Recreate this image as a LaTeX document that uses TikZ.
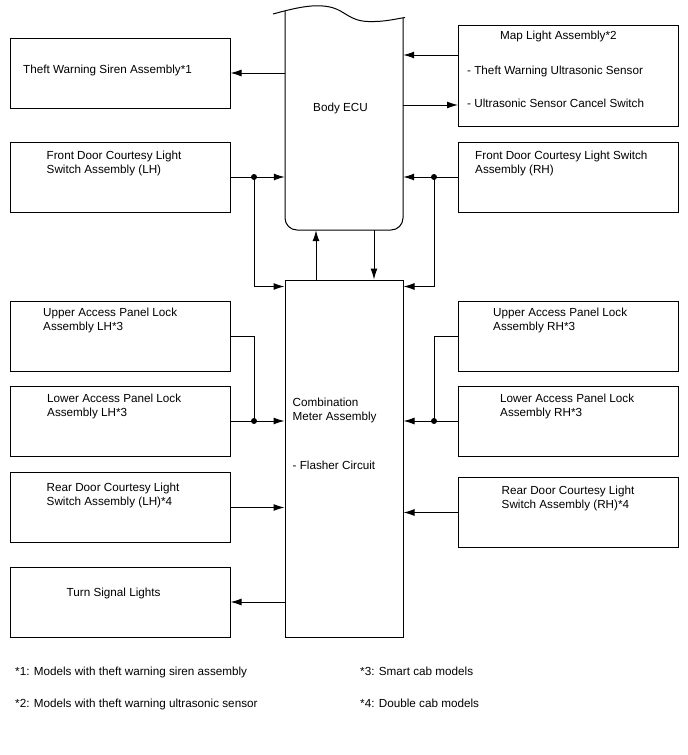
\documentclass[tikz,border=0pt]{standalone}
\usepackage{fontspec}
\setmainfont{Liberation Sans}
\usetikzlibrary{arrows.meta}
\begin{document}
\begin{tikzpicture}[x=1pt,y=-1pt,
  box/.style={draw, line width=1pt, inner sep=0, minimum width=220pt, minimum height=70pt},
  txt/.style={anchor=base west, inner sep=0, font=\fontsize{11.7}{14}\selectfont},
  ln/.style={line width=1pt},
  arr/.style={ln, -{Latex[length=11pt,width=7pt]}},
  jdot/.style={circle, fill, inner sep=0, minimum size=6pt}]
\useasboundingbox (0,0) rectangle (688,755);
% boxes
\node[box] (siren) at (120,73) {};
\node[box, minimum height=101pt] (map) at (568,75.5) {};
\node[box] (flh) at (120,177) {};
\node[box] (frh) at (568,177) {};
\node[box] (ulh) at (120,336.5) {};
\node[box] (urh) at (568,336.5) {};
\node[box] (llh) at (120,421) {};
\node[box] (lrh) at (568,421) {};
\node[box] (rlh) at (120,507.5) {};
\node[box] (rrh) at (568,512.5) {};
\node[box] (turn) at (120,602) {};
\node[draw, line width=1pt, inner sep=0, minimum width=118pt, minimum height=357pt] (meter) at (344,458.5) {};
\node[inner sep=0, minimum width=118pt, minimum height=220pt] (ecu) at (344,120) {};
% Body ECU outline
\draw[ln, rounded corners=12pt] (285,10.6) -- (285,230) -- (403,230) -- (403,18);
\draw[ln] (273,14) .. controls (295,8) and (315,3) .. (332,7.5) .. controls (345,11) and (350,21) .. (368,21.5) .. controls (385,22) and (395,19) .. (405,17.5);
% texts
\node[txt] (tsiren) at (23,73) {Theft Warning Siren Assembly*1};
\node[txt] (tecu) at (313,111) {Body ECU};
\node[txt] (tmap1) at (500,39) {Map Light Assembly*2};
\node[txt] (tmap2) at (467,74) {- Theft Warning Ultrasonic Sensor};
\node[txt] (tmap3) at (467,107.5) {- Ultrasonic Sensor Cancel Switch};
\node[txt] (tflh1) at (46.5,159) {Front Door Courtesy Light};
\node[txt] (tflh2) at (46.5,173) {Switch Assembly (LH)};
\node[txt] (tfrh1) at (475,159) {Front Door Courtesy Light Switch};
\node[txt] (tfrh2) at (475,173) {Assembly (RH)};
\node[txt] (tulh1) at (43,316.5) {Upper Access Panel Lock};
\node[txt] (tulh2) at (43,330.5) {Assembly LH*3};
\node[txt] (turh1) at (493,316.5) {Upper Access Panel Lock};
\node[txt] (turh2) at (493,330.5) {Assembly RH*3};
\node[txt] (tllh1) at (47,402) {Lower Access Panel Lock};
\node[txt] (tllh2) at (47,416) {Assembly LH*3};
\node[txt] (tlrh1) at (500,402) {Lower Access Panel Lock};
\node[txt] (tlrh2) at (500,416) {Assembly RH*3};
\node[txt] (trlh1) at (46.5,491) {Rear Door Courtesy Light};
\node[txt] (trlh2) at (46.5,505) {Switch Assembly (LH)*4};
\node[txt] (trrh1) at (501.5,494) {Rear Door Courtesy Light};
\node[txt] (trrh2) at (501.5,508) {Switch Assembly (RH)*4};
\node[txt] (tturn) at (66.5,596) {Turn Signal Lights};
\node[txt] (tmet1) at (292.5,406) {Combination};
\node[txt] (tmet2) at (292.5,420) {Meter Assembly};
\node[txt] (tmet3) at (292.5,469) {- Flasher Circuit};
\node[txt] (fn1) at (15,675) {*1: Models with theft warning siren assembly};
\node[txt] (fn2) at (15,707) {*2: Models with theft warning ultrasonic sensor};
\node[txt] (fn3) at (360,675) {*3: Smart cab models};
\node[txt] (fn4) at (360,707) {*4: Double cab models};
% connectors
\draw[arr] (ecu.west |- siren.east) -- (siren.east);
\coordinate (mapin) at (458,55);
\coordinate (mapout) at (458,105);
\draw[arr] (mapin) -- (ecu.east |- mapin);
\draw[arr] (ecu.east |- mapout) -- (mapout);
\coordinate (jfl) at (254,177);
\coordinate (jfr) at (434,177);
\draw[arr] (flh.east) -- (ecu.west |- flh.east);
\draw[arr] (jfl) |- ([yshift=-7pt]meter.north west);
\node[jdot] (dfl) at (jfl) {};
\draw[arr] (frh.west) -- (ecu.east |- frh.west);
\draw[arr] (jfr) |- ([yshift=-7pt]meter.north east);
\node[jdot] (dfr) at (jfr) {};
\draw[arr] ([xshift=-28pt]meter.north) -- ([xshift=-28pt]ecu.south);
\draw[arr] ([xshift=30pt]ecu.south) -- ([xshift=30pt]meter.north);
\coordinate (jal) at (254,421);
\coordinate (jar) at (434,421);
\draw[ln] (ulh.east) -| (jal);
\draw[arr] (llh.east) -- (meter.west |- llh.east);
\node[jdot] (dal) at (jal) {};
\draw[ln] (urh.west) -| (jar);
\draw[arr] (lrh.west) -- (meter.east |- lrh.west);
\node[jdot] (dar) at (jar) {};
\draw[arr] (rlh.east) -- (meter.west |- rlh.east);
\draw[arr] (rrh.west) -- (meter.east |- rrh.west);
\draw[arr] (meter.west |- turn.east) -- (turn.east);
\end{tikzpicture}
\end{document}
